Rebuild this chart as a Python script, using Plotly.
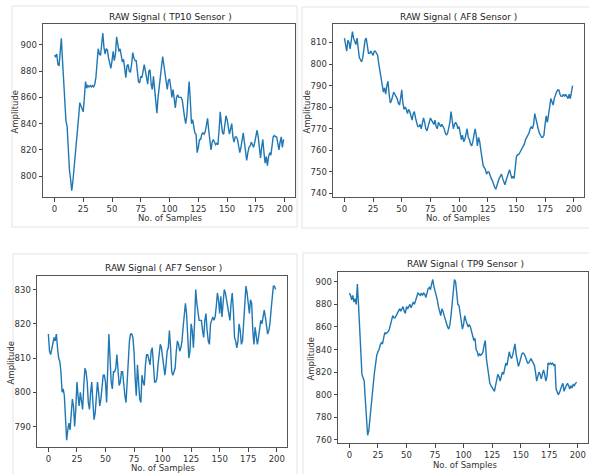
import plotly.graph_objects as go

W, H = 589, 474

samples = list(range(200))

tp10 = [892, 891, 893, 885, 884, 897, 905, 888, 870, 855,
        842, 838, 820, 805, 798, 789, 796, 805, 815, 825,
        835, 845, 856, 854, 852, 849, 860, 872, 867, 869,
        868, 869, 868, 869, 868, 870, 875, 885, 897, 893,
        892, 900, 909, 898, 893, 897, 896, 890, 886, 882,
        888, 895, 888, 893, 906, 900, 895, 897, 890, 887,
        889, 880, 875, 884, 885, 880, 879, 885, 894, 890,
        888, 888, 880, 872, 871, 876, 875, 880, 885, 880,
        875, 870, 880, 881, 870, 866, 876, 868, 858, 848,
        860, 868, 880, 886, 891, 885, 878, 870, 866, 873,
        874, 868, 860, 866, 858, 852, 860, 862, 860, 860,
        860, 858, 850, 845, 840, 846, 860, 872, 858, 840,
        843, 838, 833, 832, 818, 822, 828, 828, 832, 833,
        832, 834, 840, 844, 835, 825, 820, 826, 828, 826,
        824, 825, 824, 835, 849, 840, 833, 832, 838, 846,
        843, 838, 832, 836, 840, 830, 826, 830, 830, 828,
        822, 818, 822, 830, 833, 826, 816, 812, 818, 822,
        823, 826, 824, 822, 826, 830, 835, 830, 822, 814,
        822, 828, 818, 810, 815, 808, 815, 818, 816, 824,
        830, 831, 830, 830, 826, 820, 826, 830, 822, 828]

af8 = [812, 808, 806, 811, 810, 807, 812, 815, 812, 810,
       809, 812, 808, 803, 802, 801, 803, 808, 811, 812,
       808, 805, 805, 806, 805, 804, 806, 806, 805, 804,
       800, 797, 793, 790, 787, 789, 786, 790, 792, 786,
       782, 783, 785, 787, 786, 785, 784, 782, 781, 784,
       788, 782, 779, 780, 779, 777, 779, 778, 776, 774,
       777, 778, 775, 772, 771, 771, 772, 770, 772, 775,
       773, 770, 769, 771, 772, 775, 774, 773, 772, 774,
       771, 770, 773, 772, 771, 772, 771, 770, 768, 767,
       768, 770, 773, 778, 774, 770, 772, 773, 772, 770,
       771, 767, 765, 767, 764, 765, 768, 770, 766, 765,
       763, 762, 764, 768, 770, 767, 762, 766, 764, 760,
       755, 753, 752, 751, 749, 750, 750, 748, 747, 746,
       744, 743, 742, 744, 745, 747, 748, 749, 747, 745,
       744, 746, 748, 750, 751, 749, 747, 748, 747, 752,
       757, 758, 758, 759, 760, 761, 762, 763, 765, 766,
       767, 768, 770, 771, 770, 772, 777, 774, 772, 770,
       768, 767, 766, 766, 767, 772, 776, 773, 776, 780,
       784, 782, 781, 784, 786, 787, 788, 788, 786, 785,
       785, 786, 785, 786, 785, 784, 786, 784, 787, 790]

af7 = [817, 812, 811, 813, 814, 816, 815, 817, 813, 810,
       809, 806, 800, 801, 799, 792, 786, 789, 791, 789,
       793, 798, 796, 790, 795, 803, 799, 796, 800, 798,
       795, 802, 807, 806, 803, 797, 795, 800, 803, 797,
       792, 794, 799, 803, 800, 796, 798, 802, 805, 805,
       803, 797, 806, 817, 810, 803, 801, 806, 806, 807,
       811, 806, 802, 803, 806, 806, 802, 799, 797, 803,
       810, 815, 817, 817, 816, 812, 804, 799, 808, 803,
       798, 797, 805, 803, 802, 808, 811, 811, 809, 808,
       812, 813, 808, 803, 803, 804, 808, 812, 814, 813,
       810, 807, 805, 808, 812, 813, 818, 813, 806, 805,
       806, 807, 812, 815, 814, 812, 813, 815, 819, 822,
       826, 823, 815, 810, 812, 820, 818, 813, 820, 830,
       826, 823, 821, 821, 821, 818, 816, 821, 823, 818,
       815, 814, 820, 821, 822, 821, 822, 825, 829, 827,
       823, 828, 822, 826, 830, 829, 827, 824, 822, 821,
       826, 829, 824, 816, 815, 813, 815, 820, 818, 814,
       815, 820, 826, 831, 829, 825, 823, 827, 826, 818,
       814, 819, 817, 814, 816, 819, 821, 820, 822, 824,
       822, 819, 817, 818, 820, 824, 828, 831, 831, 830]

tp9 = [890, 888, 884, 888, 882, 885, 880, 898, 880, 860,
       840, 818, 815, 812, 795, 775, 764, 768, 780, 792,
       800, 810, 820, 830, 835, 838, 840, 844, 846, 845,
       852, 855, 854, 855, 856, 858, 862, 866, 870, 868,
       868, 870, 872, 874, 876, 874, 876, 878, 874, 872,
       878, 876, 878, 880, 877, 880, 882, 880, 884, 888,
       890, 889, 888, 890, 888, 890, 889, 886, 890, 894,
       895, 893, 898, 902, 896, 892, 889, 884, 878, 872,
       870, 876, 874, 870, 866, 863, 860, 858, 862, 870,
       880, 892, 902, 900, 890, 880, 879, 872, 862, 858,
       862, 870, 866, 862, 860, 862, 860, 856, 852, 848,
       850, 840, 838, 834, 836, 835, 836, 838, 844, 848,
       832, 824, 818, 810, 808, 806, 804, 803, 808, 812,
       818, 816, 812, 816, 820, 818, 824, 828, 826, 832,
       838, 834, 832, 835, 840, 845, 836, 830, 825, 828,
       832, 836, 837, 836, 834, 830, 828, 828, 830, 832,
       830, 828, 826, 820, 812, 816, 820, 818, 814, 818,
       822, 818, 812, 816, 828, 827, 828, 827, 828, 826,
       827, 805, 803, 800, 802, 806, 808, 810, 803, 806,
       808, 810, 808, 805, 808, 806, 809, 808, 810, 811]

titles = ["RAW Signal ( TP10 Sensor )", "RAW Signal ( AF8 Sensor )",
          "RAW Signal ( AF7 Sensor )", "RAW Signal ( TP9 Sensor )"]
series = [tp10, af8, af7, tp9]
y_ranges = [[784.1, 915.9], [738.3, 818.6], [784.0, 834.0], [757.1, 908.8]]
y_ticks = [[800, 820, 840, 860, 880, 900],
           [740, 750, 760, 770, 780, 790, 800, 810],
           [790, 800, 810, 820, 830],
           [760, 780, 800, 820, 840, 860, 880, 900]]
x_ticks = [0, 25, 50, 75, 100, 125, 150, 175, 200]

def px(x):
    return x / W

def py(y):
    return 1 - y / H

# axes boxes in pixels: (left, right, top, bottom)
boxes = [(43, 295, 24, 198), (333, 584, 24, 198),
         (37, 287, 277, 449), (338, 588, 273, 445)]
# title (x, y), xlabel (x, y), ylabel (x, y)
title_pos = [(170, 17), (458, 17), (163, 269), (465, 265)]
xlab_pos = [(170, 219), (458, 219), (163, 470), (465, 467)]
ylab_pos = [(15, 112), (307, 112), (11, 364), (311, 360)]
frames = [(12, 297, 6, 228), (302, 600, 7, 229), (13, 297, 255, 480), (303, 600, 254, 480)]

fig = go.Figure()
font = "DejaVu Sans, Arial, sans-serif"
annotations = []
shapes = []
for i in range(4):
    l, r, t, b = boxes[i]
    xa = "xaxis" if i == 0 else f"xaxis{i+1}"
    ya = "yaxis" if i == 0 else f"yaxis{i+1}"
    xr = "x" if i == 0 else f"x{i+1}"
    yr = "y" if i == 0 else f"y{i+1}"
    fig.add_trace(go.Scatter(x=samples, y=series[i], mode="lines",
                             line=dict(color="#1f77b4", width=1.4),
                             xaxis=xr, yaxis=yr, showlegend=False,
                             hoverinfo="skip"))
    fig.layout[xa] = dict(domain=[px(l), px(r)], anchor=yr, range=[-9.95, 208.95],
                          tickvals=x_ticks, ticks="outside", ticklen=3.5,
                          tickcolor="#444", showgrid=False, zeroline=False,
                          showline=True, linecolor="#555", linewidth=1, mirror=True,
                          tickfont=dict(size=8.5, color="#333", family=font))
    fig.layout[ya] = dict(domain=[py(b), py(t)], anchor=xr, range=y_ranges[i],
                          tickvals=y_ticks[i], ticks="outside", ticklen=3.5,
                          tickcolor="#444", showgrid=False, zeroline=False,
                          showline=True, linecolor="#555", linewidth=1, mirror=True,
                          tickfont=dict(size=8.5, color="#333", family=font))
    tx, ty = title_pos[i]
    annotations.append(dict(text=titles[i], x=px(tx), y=py(ty), xref="paper", yref="paper",
                            showarrow=False, xanchor="center", yanchor="middle",
                            font=dict(size=9, color="#222", family=font)))
    lx, ly = xlab_pos[i]
    annotations.append(dict(text="No. of Samples", x=px(lx), y=py(ly), xref="paper", yref="paper",
                            showarrow=False, xanchor="center", yanchor="middle",
                            font=dict(size=8.5, color="#333", family=font)))
    vx, vy = ylab_pos[i]
    annotations.append(dict(text="Amplitude", x=px(vx), y=py(vy), xref="paper", yref="paper",
                            showarrow=False, xanchor="center", yanchor="middle", textangle=-90,
                            font=dict(size=8.5, color="#333", family=font)))
    fl, fr, ft, fb = frames[i]
    shapes.append(dict(type="rect", xref="paper", yref="paper",
                       x0=px(fl), x1=px(fr), y0=py(fb), y1=py(ft),
                       line=dict(color="#e4e4e4", width=1), layer="below"))

fig.update_layout(width=W, height=H, margin=dict(l=0, r=0, t=0, b=0),
                  paper_bgcolor="white", plot_bgcolor="white",
                  annotations=annotations, shapes=shapes)

fig.write_html("out.html", config={"displayModeBar": False},
               post_script="document.body.style.margin='0';document.body.style.overflow='hidden';")
